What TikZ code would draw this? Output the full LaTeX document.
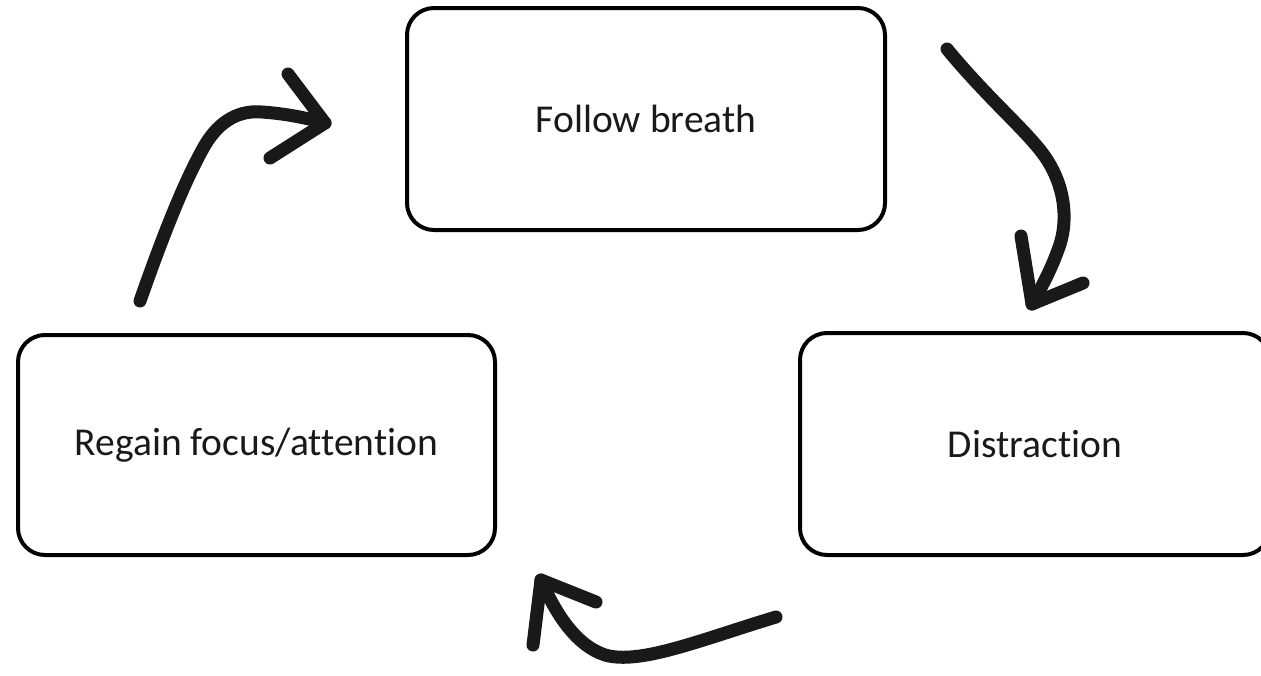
\documentclass[tikz,border=0pt]{standalone}
\usepackage{fontspec}
\setmainfont[Ligatures=NoCommon]{Carlito}
\begin{document}
\begin{tikzpicture}[x=1pt,y=-1pt,
  stepbox/.style={draw=black, line width=4pt, rounded corners=27pt, fill=white,
    inner sep=0pt, font=\fontsize{39.5}{47}\selectfont, text=black!90},
  brush/.style={draw=black!90, line width=13pt, line cap=round, line join=round}]
\useasboundingbox (0,0) rectangle (1261,675);
\clip (0,0) rectangle (1261,675);
\fill[white] (0,0) rectangle (1261,675);
\node[stepbox, minimum width=478pt, minimum height=222pt] (follow) at (646,119) {Follow breath};
\node[stepbox, minimum width=477pt, minimum height=220pt] (regain) at (256.5,445) {Regain focus/attention};
\node[stepbox, minimum width=470pt, minimum height=222pt] (distr) at (1035,444) {Distraction};
% arrow: regain -> follow
\coordinate (a1s) at (140,301);
\coordinate (a1t) at (325,123);
\draw[brush] (a1s) .. controls (165,230) and (185,180) .. (205,145) .. controls (220,120) and (240,110) .. (262,112) .. controls (290,114) and (310,119) .. (a1t);
\draw[brush] (288,74) -- (a1t) -- (270,158);
% arrow: follow -> distraction
\coordinate (a2s) at (947,49);
\coordinate (a2t) at (1032,304);
\draw[brush] (a2s) .. controls (985,95) and (1020,125) .. (1040,150) .. controls (1068,185) and (1068,225) .. (1058,250) .. controls (1050,272) and (1040,290) .. (a2t);
\draw[brush] (1021,236) -- (a2t) -- (1083,283);
% arrow: distraction -> regain
\coordinate (a3s) at (776,617);
\coordinate (a3t) at (541,580);
\draw[brush] (a3s) .. controls (700,640) and (640,665) .. (605,655) .. controls (575,645) and (555,612) .. (a3t);
\draw[brush] (533,645) -- (a3t) -- (596,602);
\end{tikzpicture}
\end{document}
